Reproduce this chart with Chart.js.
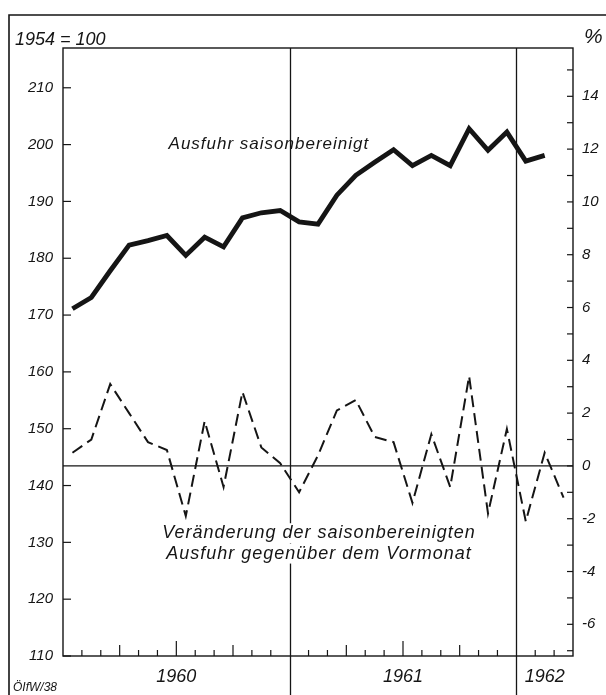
<!DOCTYPE html>
<html lang="de">
<head>
    <meta charset="UTF-8">
    <title>Ausfuhr saisonbereinigt 1960-1962</title>
    <script src="https://cdn.jsdelivr.net/npm/chart.js"></script>
    <style>
        body { margin: 0; background: #fff; }
        canvas { display: block; }
    </style>
</head>
<body>
    <canvas id="exportChart" width="606" height="695"></canvas>

    <script>
        // Months Jan 1960 - Mar 1962
        const months = ['Jan 60', 'Feb 60', 'Mär 60', 'Apr 60', 'Mai 60', 'Jun 60', 'Jul 60', 'Aug 60', 'Sep 60', 'Okt 60', 'Nov 60', 'Dez 60',
                        'Jan 61', 'Feb 61', 'Mär 61', 'Apr 61', 'Mai 61', 'Jun 61', 'Jul 61', 'Aug 61', 'Sep 61', 'Okt 61', 'Nov 61', 'Dez 61',
                        'Jan 62', 'Feb 62', 'Mär 62'];

        // Export, seasonally adjusted (1954 = 100)
        const exportIndex = [171.1, 173.1, 177.8, 182.3, 183.1, 184.0, 180.5, 183.7, 182.0, 187.1, 188.0, 188.4,
                             186.4, 186.0, 191.1, 194.6, 196.9, 199.1, 196.3, 198.1, 196.3, 202.8, 199.0, 202.2,
                             197.1, 198.1, null];

        // Change against previous month (%)
        const changePct = [0.5, 1.0, 3.1, 2.0, 0.9, 0.6, -1.9, 1.7, -0.8, 2.8, 0.7, 0.1,
                           -1.0, 0.4, 2.1, 2.5, 1.1, 0.9, -1.4, 1.2, -0.8, 3.4, -1.8, 1.4,
                           -2.1, 0.5, -1.2];

        // Axis ticks and labels
        const leftTicks = [110, 120, 130, 140, 150, 160, 170, 180, 190, 200, 210];
        const rightTicks = [-6, -4, -2, 0, 2, 4, 6, 8, 10, 12, 14];
        const rightMinorTicks = [-7, -5, -3, -1, 1, 3, 5, 7, 9, 11, 13, 15];
        const yearLabels = ['1960', '1961', '1962'];
        const yearCenters = [6, 18, 25.5];
        const yearBreaks = [12, 24];

        const ink = '#151515';
        const fontFamily = "'Liberation Sans', Arial, sans-serif";

        // Draws the frame, hand-style ticks, year dividers and notes
        const framePlugin = {
            id: 'frame',
            beforeDatasetsDraw(chart) {
                const { ctx, chartArea: a, scales } = chart;
                const x = scales.x, y2 = scales.y2, y = scales.y;
                ctx.save();
                ctx.strokeStyle = ink;
                ctx.lineCap = 'butt';

                // outer border
                ctx.lineWidth = 1.6;
                ctx.beginPath();
                ctx.moveTo(9, 695);
                ctx.lineTo(9, 15);
                ctx.lineTo(606, 15);
                ctx.stroke();

                // plot box
                ctx.lineWidth = 1.4;
                ctx.strokeRect(a.left, a.top, a.right - a.left, a.bottom - a.top);

                // year dividers
                ctx.lineWidth = 1.3;
                yearBreaks.forEach(m => {
                    const px = Math.round(x.getPixelForValue(m)) + 0.5;
                    ctx.beginPath();
                    ctx.moveTo(px, a.top);
                    ctx.lineTo(px, 695);
                    ctx.stroke();
                });

                // zero line of the percent scale
                const y0 = y2.getPixelForValue(0);
                ctx.lineWidth = 1.2;
                ctx.beginPath();
                ctx.moveTo(a.left, y0);
                ctx.lineTo(a.right, y0);
                ctx.stroke();

                // left ticks (inward)
                ctx.lineWidth = 1.2;
                leftTicks.forEach(v => {
                    const py = y.getPixelForValue(v);
                    ctx.beginPath();
                    ctx.moveTo(a.left, py);
                    ctx.lineTo(a.left + 8, py);
                    ctx.stroke();
                });

                // right ticks (inward), every percent
                rightTicks.concat(rightMinorTicks).forEach(v => {
                    const py = y2.getPixelForValue(v);
                    ctx.beginPath();
                    ctx.moveTo(a.right, py);
                    ctx.lineTo(a.right - 6, py);
                    ctx.stroke();
                });

                // month ticks on the bottom axis
                for (let m = 1; m < months.length; m++) {
                    if (yearBreaks.includes(m)) continue;
                    const px = x.getPixelForValue(m);
                    let len = 6;
                    if (m % 6 === 0) len = 15;
                    else if (m % 3 === 0) len = 11;
                    ctx.beginPath();
                    ctx.moveTo(px, a.bottom);
                    ctx.lineTo(px, a.bottom - len);
                    ctx.stroke();
                }
                ctx.restore();
            },
            afterDatasetsDraw(chart) {
                const { ctx, scales } = chart;
                const x = scales.x, y = scales.y, y2 = scales.y2;
                ctx.save();
                ctx.fillStyle = ink;
                ctx.textBaseline = 'middle';

                // headers
                ctx.font = 'italic 18px ' + fontFamily;
                ctx.textAlign = 'left';
                ctx.fillText('1954 = 100', 15, 40);
                ctx.font = 'italic 21px ' + fontFamily;
                ctx.fillText('%', 584, 37);
                ctx.font = 'italic 12px ' + fontFamily;
                ctx.fillText('ÖIfW/38', 13, 688);

                // series notes
                ctx.font = 'italic 17px ' + fontFamily;
                ctx.letterSpacing = '1px';
                ctx.textAlign = 'center';
                ctx.fillText('Ausfuhr saisonbereinigt', x.getPixelForValue(10.9), y.getPixelForValue(200));

                ctx.font = 'italic 18px ' + fontFamily;
                const lines = ['Veränderung der saisonbereinigten', 'Ausfuhr gegenüber dem Vormonat'];
                const cx = x.getPixelForValue(13.55);
                const ys = [y2.getPixelForValue(-2.55), y2.getPixelForValue(-3.32)];
                ctx.fillStyle = '#fff';
                lines.forEach((t, i) => {
                    const w = ctx.measureText(t).width;
                    ctx.fillRect(cx - w / 2 - 3, ys[i] - 10, w + 6, 20);
                });
                ctx.fillStyle = ink;
                lines.forEach((t, i) => ctx.fillText(t, cx, ys[i]));
                ctx.restore();
            }
        };

        const tickFont = { family: fontFamily, size: 15, style: 'italic' };

        new Chart(document.getElementById('exportChart'), {
            type: 'line',
            data: {
                datasets: [
                    {
                        label: 'Ausfuhr saisonbereinigt',
                        data: exportIndex.map((v, i) => ({ x: i + 0.5, y: v })),
                        yAxisID: 'y',
                        borderColor: ink,
                        borderWidth: 4.8,
                        borderJoinStyle: 'miter',
                        pointRadius: 0,
                        tension: 0
                    },
                    {
                        label: 'Veränderung gegenüber dem Vormonat',
                        data: changePct.map((v, i) => ({ x: i + 0.5, y: v })),
                        yAxisID: 'y2',
                        borderColor: ink,
                        borderWidth: 2,
                        borderDash: [12, 6],
                        pointRadius: 0,
                        tension: 0
                    }
                ]
            },
            options: {
                responsive: false,
                animation: false,
                layout: { padding: { top: 48, left: 0, right: 0, bottom: 0 } },
                plugins: {
                    legend: { display: false },
                    tooltip: { enabled: false }
                },
                scales: {
                    x: {
                        type: 'linear',
                        min: 0,
                        max: months.length,
                        grid: { display: false, drawTicks: false },
                        border: { display: false },
                        afterBuildTicks: s => { s.ticks = yearCenters.map(v => ({ value: v })); },
                        afterFit: s => { s.height = 39; },
                        ticks: {
                            autoSkip: false,
                            maxRotation: 0,
                            padding: 10,
                            color: ink,
                            font: { family: fontFamily, size: 18, style: 'italic' },
                            callback: (v, i) => yearLabels[i]
                        }
                    },
                    y: {
                        position: 'left',
                        min: 110,
                        max: 217,
                        grid: { display: false, drawTicks: false },
                        border: { display: false },
                        afterBuildTicks: s => { s.ticks = leftTicks.map(v => ({ value: v })); },
                        afterFit: s => { s.width = 63; },
                        ticks: { padding: 10, color: ink, font: tickFont }
                    },
                    y2: {
                        position: 'right',
                        min: -7.2,
                        max: 15.83,
                        grid: { display: false, drawTicks: false },
                        border: { display: false },
                        afterBuildTicks: s => { s.ticks = rightTicks.map(v => ({ value: v })); },
                        afterFit: s => { s.width = 33; },
                        ticks: { padding: 9, color: ink, font: tickFont }
                    }
                }
            },
            plugins: [framePlugin]
        });
    </script>
</body>
</html>
